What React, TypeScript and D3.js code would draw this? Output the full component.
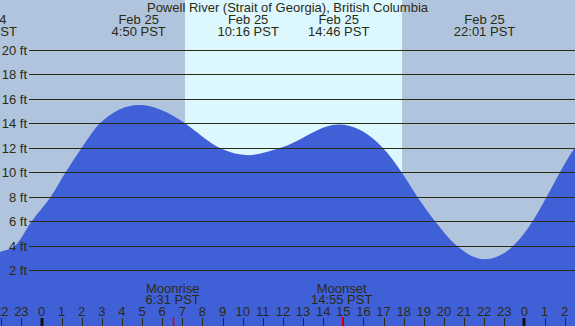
import React from "react";
import * as d3 from "d3";

const W = 575;
const H = 326;

const title = "Powell River (Strait of Georgia), British Columbia";

// tide readings: hours from midnight Feb 25 (PST), height in feet
const sampleHours = [-2.75, -2.06, -1.32, -0.49, 0.46, 1.2, 2.0, 2.91, 4.83, 7.13, 7.38, 8.84, 10.27, 11.89, 14.77, 16.96, 17.9, 18.68, 19.56, 20.64, 22.02, 23.45, 24.41, 25.11, 25.77, 26.52, 29.6];
const sampleFeet = [3.2, 3.5, 4.0, 6.0, 8.0, 10.0, 12.0, 14.0, 15.5, 14.0, 13.7, 12.0, 11.4, 12.0, 13.9, 12.0, 10.0, 8.0, 6.0, 4.0, 2.9, 4.0, 6.0, 8.0, 10.0, 12.0, 15.0];

const extremeHours = [-2.75, 4.83, 10.27, 14.77, 22.02];
const extremeDates = ["Feb 24", "Feb 25", "Feb 25", "Feb 25", "Feb 25"];
const extremeTimes = ["21:15 PST", "4:50 PST", "10:16 PST", "14:46 PST", "22:01 PST"];

const moonHours = [6.52, 14.92];
const moonNames = ["Moonrise", "Moonset"];
const moonTimes = ["6:31 PST", "14:55 PST"];

const sunriseHour = 7.13;
const sunsetHour = 17.92;

const feetTicks = [2, 4, 6, 8, 10, 12, 14, 16, 18, 20];
const hourTicks = d3.range(-3, 28);

const NIGHT = "#b0c4de";
const DAY = "#ddf7ff";
const WATER = "#4060d8";
const INK = "#2b2b12";
const FONT = "'Liberation Sans', Arial, sans-serif";

export default function App() {
  const x = d3.scaleLinear().domain([0, 24]).range([41.5, 41.5 + 24 * 20.12]);
  const y = d3.scaleLinear().domain([0, 20]).range([294.8, 49.8]);

  const pts = sampleHours.map((h, i) => [h, sampleFeet[i]] as [number, number]);
  const area = d3
    .area<[number, number]>()
    .x((d) => x(d[0]))
    .y0(H)
    .y1((d) => y(d[1]))
    .curve(d3.curveMonotoneX);

  const label = (h: number) => (((h % 24) + 24) % 24).toString();

  return (
    <div style={{ position: "fixed", left: 0, top: 0, width: W, height: H }}>
      <svg width={W} height={H} style={{ display: "block" }} fontFamily={FONT} fontSize={13}>
        <rect x={0} y={0} width={W} height={H} fill={NIGHT} />
        <rect x={x(sunriseHour)} y={0} width={x(sunsetHour) - x(sunriseHour)} height={H} fill={DAY} />
        <path d={area(pts) || ""} fill={WATER} />
        {feetTicks.map((f) => (
          <g key={f}>
            <line x1={29} x2={W} y1={Math.round(y(f)) + 0.5} y2={Math.round(y(f)) + 0.5} stroke={INK} strokeWidth={1} />
            <text x={27} y={Math.round(y(f)) + 5} textAnchor="end" fill={INK}>
              {f} ft
            </text>
          </g>
        ))}
        <text x={287.5} y={12} textAnchor="middle" fill={INK}>
          {title}
        </text>
        {extremeHours.map((h, i) => (
          <g key={i}>
            <text x={x(h)} y={24} textAnchor="middle" fill={INK}>
              {extremeDates[i]}
            </text>
            <text x={x(h)} y={36} textAnchor="middle" fill={INK}>
              {extremeTimes[i]}
            </text>
          </g>
        ))}
        {hourTicks.map((h) => {
          const mid = ((h % 24) + 24) % 24 === 0;
          return (
            <g key={h}>
              <line
                x1={Math.round(x(h)) + (mid ? 0 : 0.5)}
                x2={Math.round(x(h)) + (mid ? 0 : 0.5)}
                y1={318}
                y2={H}
                stroke={mid ? "#111" : INK}
                strokeWidth={mid ? 3 : 1}
              />
              <text x={x(h)} y={315.5} textAnchor="middle" fill={INK}>
                {label(h)}
              </text>
            </g>
          );
        })}
        {moonHours.map((h, i) => (
          <g key={i}>
            <line x1={Math.round(x(h)) + 0.5} x2={Math.round(x(h)) + 0.5} y1={317} y2={H} stroke="#e00000" strokeWidth={1.5} />
            <text x={x(h)} y={292.5} textAnchor="middle" fill={INK}>
              {moonNames[i]}
            </text>
            <text x={x(h)} y={304} textAnchor="middle" fill={INK}>
              {moonTimes[i]}
            </text>
          </g>
        ))}
      </svg>
    </div>
  );
}
